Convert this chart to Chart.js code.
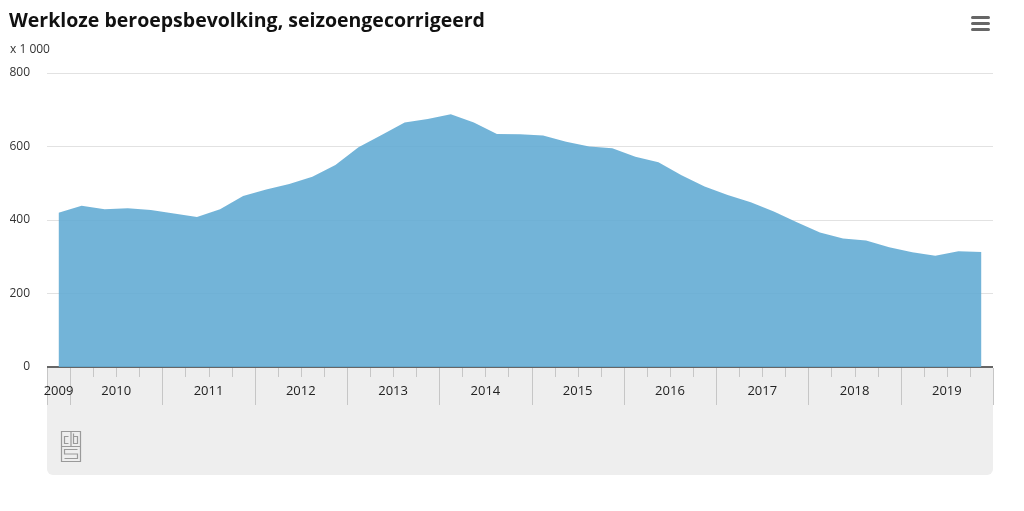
<!DOCTYPE html>
<html>
<head>
<meta charset="utf-8">
<script src="https://cdn.jsdelivr.net/npm/chart.js@4/dist/chart.umd.min.js"></script>
<style>
	html, body { margin: 0; padding: 0; background: #ffffff; }
	#wrap { width: 1024px; height: 511px; position: relative; }
</style>
</head>
<body>
<div id="wrap"><canvas id="werkloosChart"></canvas></div>
<script>
//	Quarters shown on the chart (2009 4e kwartaal up to 2019 4e kwartaal)
var quarters = [
	'2009K4',
	'2010K1', '2010K2', '2010K3', '2010K4',
	'2011K1', '2011K2', '2011K3', '2011K4',
	'2012K1', '2012K2', '2012K3', '2012K4',
	'2013K1', '2013K2', '2013K3', '2013K4',
	'2014K1', '2014K2', '2014K3', '2014K4',
	'2015K1', '2015K2', '2015K3', '2015K4',
	'2016K1', '2016K2', '2016K3', '2016K4',
	'2017K1', '2017K2', '2017K3', '2017K4',
	'2018K1', '2018K2', '2018K3', '2018K4',
	'2019K1', '2019K2', '2019K3', '2019K4'
];
//	Werkloze beroepsbevolking, seizoengecorrigeerd (x 1 000)
var werkloos = [
	420,
	439, 429, 432, 427,
	418, 408, 429, 465,
	483, 498, 518, 550,
	598, 631, 665, 675,
	688, 665, 634, 633,
	630, 613, 600, 595,
	572, 557, 522, 491,
	468, 448, 423, 394,
	366, 350, 344, 326,
	312, 303, 315, 313
];
//	Year labels under the axis
var years = ['2009', '2010', '2011', '2012', '2013', '2014', '2015', '2016', '2017', '2018', '2019'];
//	Y axis ticks
var yTicks = [0, 200, 400, 600, 800];

var fontFamily = '"Open Sans", "DejaVu Sans", sans-serif';

/**
 *	Draws the grey band with quarter ticks, year labels, logo, title and menu icon
 */
var cbsFrame = {
	id: 'cbsFrame',
	beforeDraw: function (chart) {
		var ctx = chart.ctx;
		var ca = chart.chartArea;
		ctx.save();
		ctx.fillStyle = '#eeeeee';
		ctx.beginPath();
		ctx.roundRect(ca.left, ca.bottom, ca.right - ca.left, 475 - ca.bottom, [0, 0, 6, 6]);
		ctx.fill();
		ctx.restore();
	},
	beforeDatasetsDraw: function (chart) {
		var ctx = chart.ctx;
		var ca = chart.chartArea;
		ctx.save();
		ctx.strokeStyle = '#666666';
		ctx.lineWidth = 2;
		ctx.beginPath();
		ctx.moveTo(ca.left, ca.bottom);
		ctx.lineTo(ca.right, ca.bottom);
		ctx.stroke();
		ctx.restore();
	},
	afterDraw: function (chart) {
		var ctx = chart.ctx;
		var ca = chart.chartArea;
		var xs = chart.scales.x;
		var half = (xs.getPixelForValue(1) - xs.getPixelForValue(0)) / 2;
		ctx.save();

		//	Quarter ticks, long ones at the start of each year
		ctx.strokeStyle = '#c6c6c6';
		ctx.lineWidth = 1;
		for (let i = 0; i <= quarters.length; i++) {
			var bx;
			if (i < quarters.length) {
				bx = xs.getPixelForValue(i) - half;
			} else {
				bx = xs.getPixelForValue(i - 1) + half;
			}
			var isLong = (i === 0 || i === quarters.length || quarters[i].slice(-2) === 'K1');
			bx = Math.round(bx) + 0.5;
			ctx.beginPath();
			ctx.moveTo(bx, ca.bottom + 1);
			ctx.lineTo(bx, ca.bottom + (isLong ? 38 : 10));
			ctx.stroke();
		}

		//	Year labels centred under their quarters
		ctx.fillStyle = '#222222';
		ctx.font = '13px ' + fontFamily;
		ctx.textAlign = 'center';
		ctx.textBaseline = 'middle';
		for (let y = 0; y < years.length; y++) {
			var first = -1, last = -1;
			for (let i = 0; i < quarters.length; i++) {
				if (quarters[i].slice(0, 4) === years[y]) {
					if (first < 0) first = i;
					last = i;
				}
			}
			var left = xs.getPixelForValue(first) - half;
			var right = xs.getPixelForValue(last) + half;
			ctx.fillText(years[y], (left + right) / 2, ca.bottom + 24);
		}

		//	CBS logo
		ctx.strokeStyle = '#9a9a9a';
		ctx.lineWidth = 1.2;
		var lx = ca.left + 14.5, ly = 431.5;
		ctx.beginPath();
		ctx.rect(lx, ly, 19, 30);
		ctx.moveTo(lx, ly + 15); ctx.lineTo(lx + 19, ly + 15);
		ctx.moveTo(lx + 9.5, ly); ctx.lineTo(lx + 9.5, ly + 15);
		// c
		ctx.moveTo(lx + 7, ly + 5); ctx.lineTo(lx + 3, ly + 5); ctx.lineTo(lx + 3, ly + 12); ctx.lineTo(lx + 7, ly + 12);
		// b
		ctx.moveTo(lx + 12, ly + 2); ctx.lineTo(lx + 12, ly + 12); ctx.lineTo(lx + 16, ly + 12); ctx.lineTo(lx + 16, ly + 5); ctx.lineTo(lx + 12, ly + 5);
		// s
		ctx.moveTo(lx + 16, ly + 18); ctx.lineTo(lx + 3, ly + 18); ctx.lineTo(lx + 3, ly + 22.5); ctx.lineTo(lx + 16, ly + 22.5);
		ctx.lineTo(lx + 16, ly + 27); ctx.lineTo(lx + 3, ly + 27);
		ctx.stroke();

		//	Title and unit
		ctx.textAlign = 'left';
		ctx.textBaseline = 'alphabetic';
		ctx.fillStyle = '#111111';
		ctx.font = 'bold 19.5px ' + fontFamily;
		ctx.fillText('Werkloze beroepsbevolking, seizoengecorrigeerd', 9, 27);
		ctx.fillStyle = '#333333';
		ctx.font = '12px ' + fontFamily;
		ctx.fillText('x 1 000', 10, 53);

		//	Menu icon
		ctx.fillStyle = '#666666';
		for (let b = 0; b < 3; b++) {
			ctx.beginPath();
			ctx.roundRect(971, 16 + b * 6, 19, 3, 1.5);
			ctx.fill();
		}
		ctx.restore();
	}
};

var ctx = document.getElementById('werkloosChart');
var newChart = new Chart(ctx, {
	type: 'line',
	data: {
		labels: quarters,
		datasets: [{
			data: werkloos,
			label: 'Werkloze beroepsbevolking',
			backgroundColor: 'rgba(100, 172, 212, 0.9)',
			borderWidth: 0,
			pointRadius: 0,
			fill: 'origin',
			tension: 0
		}]
	},
	options: {
		responsive: true,
		maintainAspectRatio: false,
		animation: false,
		layout: {
			padding: { left: 10, right: 31, top: 73, bottom: 144 }
		},
		plugins: {
			legend: { display: false },
			title: { display: false },
			tooltip: { enabled: false }
		},
		scales: {
			x: {
				type: 'category',
				offset: true,
				grid: { display: false },
				border: { display: false },
				ticks: { display: false },
				afterFit: function (scale) { scale.height = 0; }
			},
			y: {
				min: 0,
				max: 800,
				afterBuildTicks: function (scale) {
					scale.ticks = yTicks.map(function (v) { return { value: v }; });
				},
				grid: { color: '#e2e2e2', drawTicks: false },
				border: { display: false },
				ticks: {
					color: '#333333',
					padding: 17,
					font: { family: fontFamily, size: 12 }
				},
				afterFit: function (scale) { scale.width = 37; }
			}
		}
	},
	plugins: [cbsFrame]
});
</script>
</body>
</html>
